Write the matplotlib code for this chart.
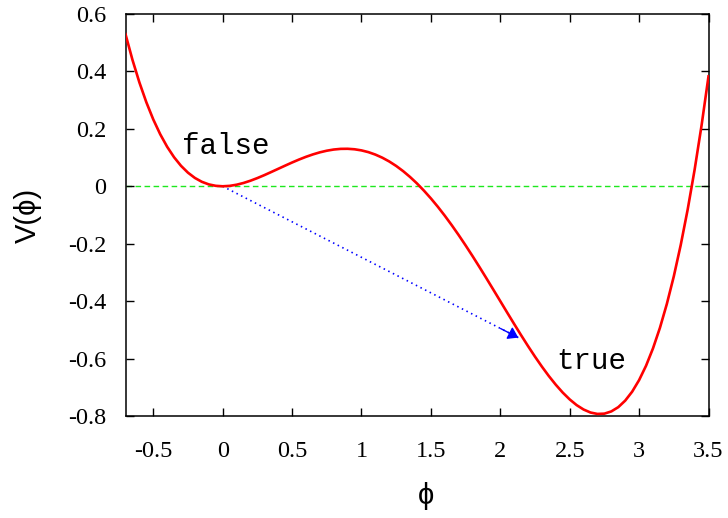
import matplotlib
matplotlib.use("Agg")
import matplotlib.pyplot as plt

# potential V(phi) sampled every 0.05
phi = [-0.70, -0.65, -0.60, -0.55, -0.50, -0.45, -0.40, -0.35, -0.30, -0.25,
       -0.20, -0.15, -0.10, -0.05, 0.00, 0.05, 0.10, 0.15, 0.20, 0.25,
       0.30, 0.35, 0.40, 0.45, 0.50, 0.55, 0.60, 0.65, 0.70, 0.75,
       0.80, 0.85, 0.90, 0.95, 1.00, 1.05, 1.10, 1.15, 1.20, 1.25,
       1.30, 1.35, 1.40, 1.45, 1.50, 1.55, 1.60, 1.65, 1.70, 1.75,
       1.80, 1.85, 1.90, 1.95, 2.00, 2.05, 2.10, 2.15, 2.20, 2.25,
       2.30, 2.35, 2.40, 2.45, 2.50, 2.55, 2.60, 2.65, 2.70, 2.75,
       2.80, 2.85, 2.90, 2.95, 3.00, 3.05, 3.10, 3.15, 3.20, 3.25,
       3.30, 3.35, 3.40, 3.45, 3.50]
V = [0.5298, 0.4406, 0.3618, 0.2928, 0.2328, 0.1813, 0.1376, 0.1011, 0.0712, 0.0474,
     0.0290, 0.0156, 0.0066, 0.0016, 0.0000, 0.0014, 0.0054, 0.0115, 0.0194, 0.0286,
     0.0388, 0.0497, 0.0608, 0.0719, 0.0828, 0.0931, 0.1026, 0.1110, 0.1182, 0.1239,
     0.1280, 0.1303, 0.1306, 0.1289, 0.1250, 0.1189, 0.1104, 0.0996, 0.0864, 0.0708,
     0.0528, 0.0324, 0.0098, -0.0152, -0.0422, -0.0713, -0.1024, -0.1353, -0.1698, -0.2058,
     -0.2430, -0.2813, -0.3204, -0.3601, -0.4000, -0.4400, -0.4796, -0.5186, -0.5566, -0.5933,
     -0.6282, -0.6610, -0.6912, -0.7185, -0.7422, -0.7621, -0.7774, -0.7879, -0.7928, -0.7918,
     -0.7840, -0.7692, -0.7464, -0.7153, -0.6750, -0.6251, -0.5646, -0.4931, -0.4096, -0.3137,
     -0.2042, -0.0808, 0.0578, 0.2119, 0.3828]

# tunnelling arrow: false vacuum -> exit point
arrow_start = (0.0, 0.0)
arrow_end = (2.13, -0.527)

xticks = [-0.5, 0, 0.5, 1, 1.5, 2, 2.5, 3, 3.5]
xticklabels = ["-0.5", "0", "0.5", "1", "1.5", "2", "2.5", "3", "3.5"]
yticks = [-0.8, -0.6, -0.4, -0.2, 0, 0.2, 0.4, 0.6]
yticklabels = ["-0.8", "-0.6", "-0.4", "-0.2", "0", "0.2", "0.4", "0.6"]

W, H = 728, 518
fig = plt.figure(figsize=(W / 100, H / 100), dpi=100)
left, right, top, bottom = 125.5, 708.5, 14, 416
ax = fig.add_axes([left / W, 1 - bottom / H, (right - left) / W, (bottom - top) / H])

ax.axhline(0, color="#1ee81e", lw=1.0, dashes=(4, 2.5), zorder=1)
ax.plot(phi, V, color="#ff0000", lw=1.9, zorder=3)

ax.plot([arrow_start[0], arrow_end[0]], [arrow_start[1], arrow_end[1]],
        color="#0000ff", lw=1.2, dashes=(0.9, 2.2), zorder=2)
dx = arrow_end[0] - arrow_start[0]
dy = arrow_end[1] - arrow_start[1]
ax.annotate("", xy=arrow_end,
            xytext=(arrow_end[0] - 0.06 * dx, arrow_end[1] - 0.06 * dy),
            arrowprops=dict(arrowstyle="-|>,head_length=0.6,head_width=0.4",
                            color="#0000ff", lw=1.0, shrinkA=0, shrinkB=0),
            zorder=2)

ax.text(-0.29, 0.14, "false", family="Liberation Mono", fontsize=21,
        ha="left", va="center")
ax.text(2.40, -0.61, "true", family="Liberation Mono", fontsize=21,
        ha="left", va="center")

ax.set_xlim(-0.7, 3.5)
ax.set_ylim(-0.8, 0.6)
ax.set_xticks(xticks)
ax.set_xticklabels(xticklabels, family="Liberation Serif", fontsize=17.5)
ax.set_yticks(yticks)
ax.set_yticklabels(yticklabels, family="Liberation Serif", fontsize=17.5)
ax.tick_params(axis="both", direction="in", length=6, width=1,
               top=True, right=True)
ax.tick_params(axis="x", pad=18)
ax.tick_params(axis="y", pad=14)
for s in ax.spines.values():
    s.set_linewidth(1.1)

ax.set_xlabel("ϕ", family="Liberation Sans", fontsize=21)
ax.xaxis.set_label_coords(0.515, -0.20)
ax.xaxis.label.set_va("center")
ax.set_ylabel("V(ϕ)", family="Liberation Sans", fontsize=21)
ax.yaxis.set_label_coords(-0.168, 0.5)
ax.yaxis.label.set_va("center")

fig.savefig("out.png", dpi=100)
